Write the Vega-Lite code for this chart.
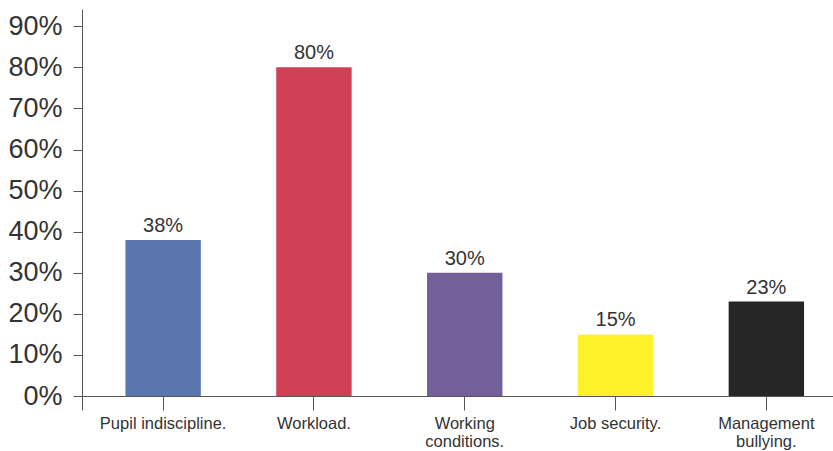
{
  "$schema": "https://vega.github.io/schema/vega-lite/v6.json",
  "width": 751,
  "height": 401,
  "autosize": "none",
  "padding": {"left": 82, "top": 9, "right": 0, "bottom": 41},
  "background": "white",
  "config": {"view": {"stroke": null}, "font": "Liberation Sans"},
  "data": {
    "values": [
      {"reason": "Pupil indiscipline.", "pct": 0.38},
      {"reason": "Workload.", "pct": 0.80},
      {"reason": "Working conditions.", "pct": 0.30},
      {"reason": "Job security.", "pct": 0.15},
      {"reason": "Management bullying.", "pct": 0.23}
    ]
  },
  "encoding": {
    "x": {
      "field": "reason",
      "type": "nominal",
      "sort": null,
      "scale": {"paddingInner": 0.5, "paddingOuter": 0.24, "align": 0.6},
      "axis": {
        "title": null,
        "labelAngle": 0,
        "labelFontSize": 16.5,
        "labelColor": "#333333",
        "labelPadding": 5,
        "labelLineHeight": 18,
        "labelExpr": "datum.label == 'Working conditions.' ? ['Working', 'conditions.'] : datum.label == 'Management bullying.' ? ['Management', 'bullying.'] : datum.label",
        "tickSize": 14,
        "tickColor": "#555555",
        "domainColor": "#555555",
        "offset": -14,
        "zindex": 1
      }
    },
    "y": {
      "field": "pct",
      "type": "quantitative",
      "scale": {"domain": [-0.034, 0.942], "nice": false, "zero": false},
      "axis": {
        "title": null,
        "values": [0, 0.1, 0.2, 0.3, 0.4, 0.5, 0.6, 0.7, 0.8, 0.9],
        "format": ".0%",
        "labelFontSize": 27,
        "labelColor": "#333333",
        "labelPadding": 11,
        "tickSize": 9,
        "tickColor": "#555555",
        "domainColor": "#555555",
        "grid": false,
        "zindex": 1
      }
    }
  },
  "layer": [
    {
      "mark": {"type": "bar"},
      "encoding": {
        "y2": {"datum": 0},
        "color": {
          "field": "reason",
          "type": "nominal",
          "legend": null,
          "scale": {
            "domain": ["Pupil indiscipline.", "Workload.", "Working conditions.", "Job security.", "Management bullying."],
            "range": ["#5b76ae", "#d04056", "#735f99", "#fff12a", "#262626"]
          }
        }
      }
    },
    {
      "mark": {"type": "text", "baseline": "alphabetic", "dy": -8, "fontSize": 20, "color": "#333333"},
      "encoding": {
        "text": {"field": "pct", "type": "quantitative", "format": ".0%"}
      }
    }
  ]
}
